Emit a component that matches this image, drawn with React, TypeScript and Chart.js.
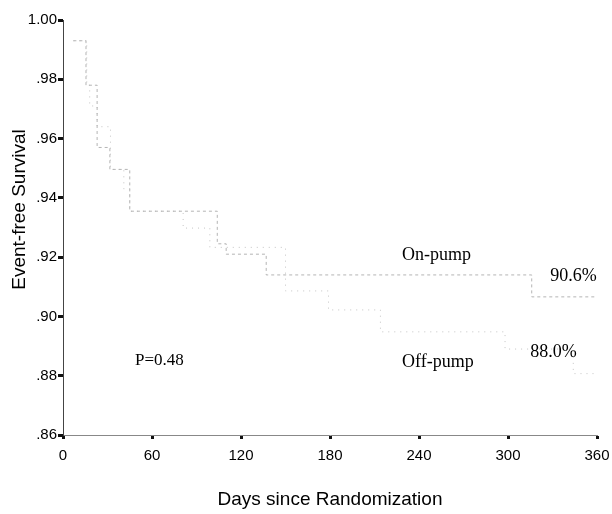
import React, { useEffect, useRef } from "react";
import { Chart, registerables } from "chart.js";

Chart.register(...registerables);

// Kaplan-Meier step data (day, event-free survival)
const onPumpDays = [7, 15.5, 23, 31.6, 45, 104, 110, 137, 316, 360];
const onPumpSurv = [0.993, 0.978, 0.957, 0.9496, 0.9355, 0.9245, 0.921, 0.914, 0.9066, 0.9066];
const offPumpDays = [7, 16, 18, 23, 32, 41, 45, 81, 99, 150, 179, 214, 298, 344, 360];
const offPumpSurv = [0.993, 0.978, 0.971, 0.964, 0.9496, 0.943, 0.9355, 0.9298, 0.9233, 0.9086, 0.9022, 0.8948, 0.889, 0.8807, 0.8807];

const xTicks = [0, 60, 120, 180, 240, 300, 360];
const yMin = 0.86;
const yMax = 1.0;

// annotations: [text, day, survival]
const annotationTexts = ["On-pump", "90.6%", "Off-pump", "88.0%", "P=0.48"];
const annotationDays = [228.6, 328.4, 228.6, 315, 48.5];
const annotationSurv = [0.9206, 0.9135, 0.8845, 0.8878, 0.8851];

const yTitle = "Event-free Survival";
const xTitle = "Days since Randomization";

const SANS = "'Liberation Sans', Arial, sans-serif";
const SERIF = "'Liberation Serif', 'Times New Roman', serif";

export default function App() {
  const ref = useRef<HTMLCanvasElement | null>(null);

  useEffect(() => {
    if (!ref.current) return;
    const annotationPlugin = {
      id: "kmText",
      afterDatasetsDraw(chart: any) {
        const ctx = chart.ctx;
        const xs = chart.scales.x;
        const ys = chart.scales.y;
        ctx.save();
        ctx.fillStyle = "#000";
        ctx.textBaseline = "middle";
        ctx.textAlign = "left";
        annotationTexts.forEach((t, i) => {
          ctx.font = (t.startsWith("P=") ? "17px " : "18px ") + SERIF;
          ctx.fillText(t, xs.getPixelForValue(annotationDays[i]), ys.getPixelForValue(annotationSurv[i]));
        });
        // y axis title
        const area = chart.chartArea;
        ctx.translate(20, (area.top + area.bottom) / 2 - 18);
        ctx.rotate(-Math.PI / 2);
        ctx.textAlign = "center";
        ctx.font = "19px " + SANS;
        ctx.fillText(yTitle, 0, 0);
        ctx.restore();
      },
    };

    const chart = new Chart(ref.current, {
      type: "line",
      data: {
        datasets: [
          {
            label: "On-pump",
            data: onPumpDays.map((d, i) => ({ x: d, y: onPumpSurv[i] })),
            stepped: "before",
            borderColor: "#b4b4b4",
            borderWidth: 1,
            borderDash: [3, 3],
            pointRadius: 0,
            fill: false,
          },
          {
            label: "Off-pump",
            data: offPumpDays.map((d, i) => ({ x: d, y: offPumpSurv[i] })),
            stepped: "before",
            borderColor: "#c4c4c4",
            borderWidth: 1,
            borderDash: [1, 5],
            pointRadius: 0,
            fill: false,
          },
        ],
      },
      options: {
        responsive: false,
        animation: false,
        layout: { padding: { left: 0, top: 20, right: 15, bottom: 0 } },
        plugins: { legend: { display: false }, tooltip: { enabled: false } },
        scales: {
          x: {
            type: "linear",
            min: 0,
            max: 360,
            afterFit(scale: any) {
              scale.height = 79;
              scale.paddingLeft = 0;
              scale.paddingRight = 0;
            },
            afterBuildTicks(scale: any) {
              scale.ticks = xTicks.map((v) => ({ value: v }));
            },
            ticks: {
              color: "#000",
              font: { family: SANS, size: 15 },
              padding: 8,
              maxRotation: 0,
            },
            grid: {
              drawOnChartArea: false,
              drawTicks: true,
              tickLength: 4,
              tickWidth: 3,
              tickColor: "#111",
            },
            border: { display: true, color: "#888", width: 1 },
            title: {
              display: true,
              text: xTitle,
              color: "#000",
              font: { family: SANS, size: 19 },
              padding: { top: 0, bottom: 3 },
            },
          },
          y: {
            type: "linear",
            min: yMin,
            max: yMax,
            afterFit(scale: any) {
              scale.width = 63;
              scale.paddingTop = 0;
              scale.paddingBottom = 0;
            },
            ticks: {
              stepSize: 0.02,
              color: "#000",
              font: { family: SANS, size: 15 },
              padding: 1,
              callback: (v: any) => {
                const n = Number(v);
                if (n >= 0.999) return "1.00";
                return "." + String(Math.round(n * 100));
              },
            },
            grid: {
              drawOnChartArea: false,
              drawTicks: true,
              tickLength: 5,
              tickWidth: 3,
              tickColor: "#111",
            },
            border: { display: true, color: "#444", width: 1 },
          },
        },
      },
      plugins: [annotationPlugin],
    });
    return () => chart.destroy();
  }, []);

  return (
    <div style={{ position: "fixed", left: 0, top: 0, width: 612, height: 514, background: "#fff" }}>
      <canvas ref={ref} width={612} height={514} style={{ width: 612, height: 514, display: "block" }} />
    </div>
  );
}
